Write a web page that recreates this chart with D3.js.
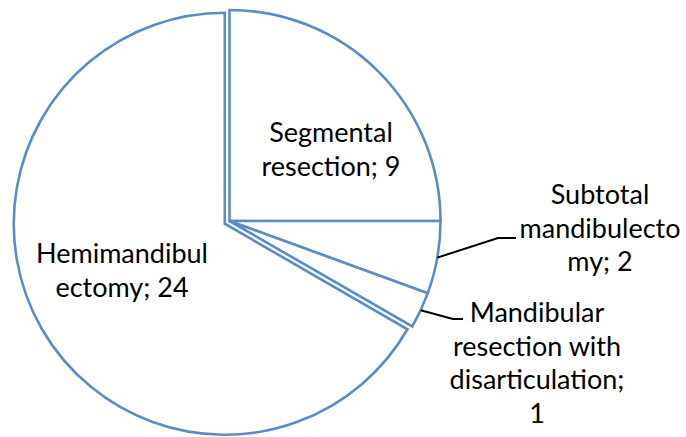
<!DOCTYPE html>
<html>
<head>
<meta charset="utf-8">
<script src="https://cdn.jsdelivr.net/npm/d3@7"></script>
<style>
  html, body { margin: 0; padding: 0; background: #fff; }
</style>
</head>
<body>
<div id="chart"></div>
<script>
// chart data
const categories = ['Segmental resection', 'Subtotal mandibulectomy', 'Mandibular resection with disarticulation', 'Hemimandibulectomy']
const values = [9, 2, 1, 24]
// label text as wrapped in the original
const labelLines = [
    ['Segmental', 'resection; 9'],
    ['Subtotal', 'mandibulecto', 'my; 2'],
    ['Mandibular', 'resection with', 'disarticulation;', '1'],
    ['Hemimandibul', 'ectomy; 24']
]

const generatePieChart = (node) => {
    const width = 686
    const height = 437
    const radius = 211
    const cx = 229.5
    const cy = 221
    const explode = [0, 0, 0, 5.5]
    const stroke = '#5b8cc8'

    // label layout: centre x, first baseline, leader polyline
    const labelPos = [
        { x: 331, y: 142 },
        { x: 600, y: 204, leader: [[498, 238], [516, 238]] },
        { x: 537, y: 322, leader: [[453, 319], [463, 319]] },
        { x: 122, y: 263 }
    ]
    const lineHeight = 33.7

    let pie = d3.pie()
                .sort(null)
                .value(d => d)

    let arc = d3.arc()
                .innerRadius(0)
                .outerRadius(radius)

    let svg = d3.select(node)
                .append('svg')
                .attr('width', width)
                .attr('height', height)

    svg.append('rect')
        .attr('width', width)
        .attr('height', height)
        .attr('fill', '#fff')

    let g = svg.append('g')
               .attr('transform', `translate(${cx}, ${cy})`)

    const arcs = pie(values)
    const mid = d => (d.startAngle + d.endAngle) / 2

    g.selectAll('.slice')
        .data(arcs)
        .enter()
        .append('path')
        .attr('class', 'slice')
        .attr('transform', (d, i) => `translate(${Math.sin(mid(d)) * explode[i]}, ${-Math.cos(mid(d)) * explode[i]})`)
        .attr('d', arc)
        .style('fill', '#fff')
        .style('stroke', stroke)
        .style('stroke-width', 2.6)
        .style('stroke-linejoin', 'miter')
        .append('title')
        .text((_, i) => `${categories[i]}; ${values[i]}`)

    // leader lines from the outer edge of the small slices
    arcs.forEach((d, i) => {
        const p = labelPos[i]
        if (!p.leader) return
        const a = mid(d)
        const start = [cx + Math.sin(a) * radius, cy - Math.cos(a) * radius]
        svg.append('polyline')
            .attr('points', [start].concat(p.leader).map(q => q.join(',')).join(' '))
            .style('fill', 'none')
            .style('stroke', '#000')
            .style('stroke-width', 2)
    })

    labelLines.forEach((lines, i) => {
        const p = labelPos[i]
        const t = svg.append('text')
                     .attr('text-anchor', 'middle')
                     .style('font-family', 'Lato, "Open Sans", sans-serif')
                     .style('font-size', '27px')
                     .style('fill', '#000')
        lines.forEach((line, j) => {
            t.append('tspan')
                .attr('x', p.x)
                .attr('y', p.y + j * lineHeight)
                .text(line)
        })
    })
}

generatePieChart(document.getElementById('chart'))
</script>
</body>
</html>
